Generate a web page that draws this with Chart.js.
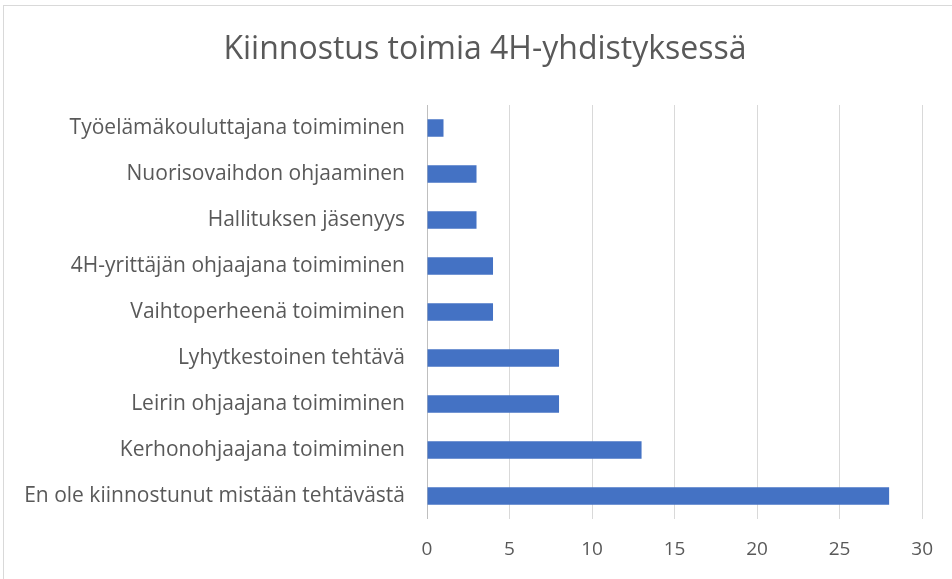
<!DOCTYPE html>
<html>
<head>
<meta charset="utf-8">
<script src="https://cdn.jsdelivr.net/npm/chart.js@4"></script>
<style>
  html, body { margin: 0; padding: 0; background: #fff; overflow: hidden; }
  #frame { position: absolute; left: 3px; top: 5px; width: 960px; height: 600px; border: 1px solid #d9d9d9; }
  #wrap { position: absolute; left: 0; top: 0; width: 952px; height: 579px; }
</style>
</head>
<body>
<div id="frame"></div>
<div id="wrap"><canvas id="chart"></canvas></div>
<script>
// Values, top to bottom.
const TITLE = "Kiinnostus toimia 4H-yhdistyksessä";
const CATEGORIES = [
  "Työelämäkouluttajana toimiminen",
  "Nuorisovaihdon ohjaaminen",
  "Hallituksen jäsenyys",
  "4H-yrittäjän ohjaajana toimiminen",
  "Vaihtoperheenä toimiminen",
  "Lyhytkestoinen tehtävä",
  "Leirin ohjaajana toimiminen",
  "Kerhonohjaajana toimiminen",
  "En ole kiinnostunut mistään tehtävästä",
];
const COUNTS = [1, 3, 3, 4, 4, 8, 8, 13, 28];
const X_MIN = 0;
const X_MAX = 30;
const X_STEP = 5;

const FONT = "'Open Sans', 'Noto Sans', sans-serif";
const TEXT_COLOR = "#595959";

// The title sits centred over the whole frame, not the plot, so draw it by hand.
const frameTitle = {
  id: "frameTitle",
  afterDraw(chart) {
    const { ctx } = chart;
    ctx.save();
    ctx.fillStyle = TEXT_COLOR;
    ctx.font = `32px ${FONT}`;
    ctx.textAlign = "center";
    ctx.textBaseline = "middle";
    ctx.fillText(TITLE, 485, 50);
    ctx.restore();
  },
};

new Chart(document.getElementById("chart"), {
  type: "bar",
  data: {
    labels: CATEGORIES,
    datasets: [
      {
        data: COUNTS,
        backgroundColor: "#4472c4",
        borderWidth: 0,
        barPercentage: 0.38,
        categoryPercentage: 1,
      },
    ],
  },
  options: {
    indexAxis: "y",
    responsive: true,
    maintainAspectRatio: false,
    animation: false,
    layout: { padding: { left: 0, right: 26, top: 105, bottom: 0 } },
    plugins: {
      legend: { display: false },
      tooltip: { enabled: false },
      title: { display: false },
    },
    scales: {
      x: {
        min: X_MIN,
        max: X_MAX,
        ticks: {
          stepSize: X_STEP,
          color: TEXT_COLOR,
          font: { family: FONT, size: 19 },
          padding: 19,
        },
        grid: {
          color: (ctx) => (ctx.tick && ctx.tick.value === 0 ? "#bfbfbf" : "#d9d9d9"),
          lineWidth: 1,
          drawTicks: false,
        },
        border: { display: false },
        afterFit(scale) {
          scale.height = 60;
        },
      },
      y: {
        ticks: {
          color: TEXT_COLOR,
          font: { family: FONT, size: 21 },
          padding: 22,
        },
        grid: { display: false, drawTicks: false },
        border: { display: false },
        afterFit(scale) {
          scale.width = 427;
        },
      },
    },
  },
  plugins: [frameTitle],
});
</script>
</body>
</html>
